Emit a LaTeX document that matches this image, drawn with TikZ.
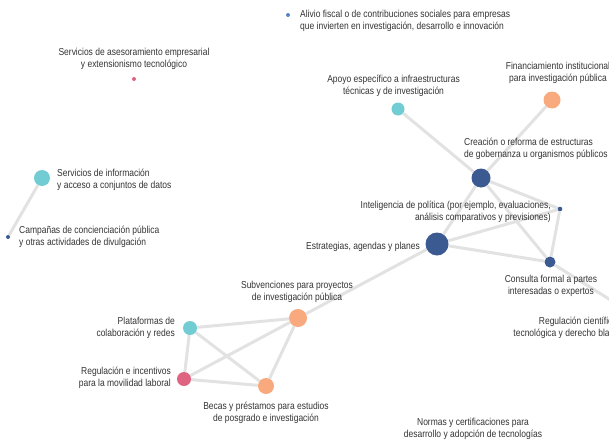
\documentclass[tikz,border=0pt]{standalone}
\usepackage{fontspec}
\setmainfont{Liberation Sans}[FakeStretch=0.84]
\usetikzlibrary{backgrounds}
\definecolor{navy}{HTML}{3C5A92}
\definecolor{skyblue}{HTML}{5B82C9}
\definecolor{cyanish}{HTML}{72CCD4}
\definecolor{peach}{HTML}{F8A97E}
\definecolor{rose}{HTML}{DE6482}
\definecolor{edgegray}{HTML}{E2E2E2}
\definecolor{txt}{HTML}{333333}
\begin{document}
\begin{tikzpicture}[x=1pt,y=-1pt,
  dot/.style={circle,inner sep=0pt,minimum size=#1},
  lbl/.style={font=\fontsize{10.1}{11.8}\selectfont,text=txt,inner sep=0pt},
  link/.style={draw=edgegray,line width=3pt}]
\useasboundingbox (0,0) rectangle (609,447);
\clip (0,0) rectangle (609,447);

% policy instruments
\node[dot=4pt,fill=skyblue] (alivio) at (288,15) {};
\node[dot=4pt,fill=rose] (asesor) at (134,79) {};
\node[dot=13pt,fill=cyanish] (apoyo) at (398,109) {};
\node[dot=17pt,fill=peach] (finan) at (552,100) {};
\node[dot=19pt,fill=navy] (creacion) at (481,178) {};
\node[dot=4.6pt,fill=navy] (intel) at (560,209) {};
\node[dot=23pt,fill=navy] (estrat) at (437,244) {};
\node[dot=11pt,fill=navy] (consulta) at (550,262) {};
\coordinate (regcien) at (636,316);
\node[dot=16pt,fill=cyanish] (info) at (42,178) {};
\node[dot=4pt,fill=navy] (campa) at (8,237) {};
\node[dot=18pt,fill=peach] (subv) at (298,318) {};
\node[dot=14pt,fill=cyanish] (plat) at (190,328) {};
\node[dot=14pt,fill=rose] (reglab) at (184,379) {};
\node[dot=16pt,fill=peach] (becas) at (266,386) {};

% co-occurrence links
\begin{pgfonlayer}{background}
\draw[link] (info) -- (campa);
\draw[link] (apoyo) -- (creacion);
\draw[link] (finan) -- (creacion);
\draw[link] (creacion) -- (estrat);
\draw[link] (creacion) -- (intel);
\draw[link] (creacion) -- (consulta);
\draw[link] (estrat) -- (intel);
\draw[link] (estrat) -- (consulta);
\draw[link] (intel) -- (consulta);
\draw[link] (consulta) -- (regcien);
\draw[link] (estrat) -- (subv);
\draw[link] (subv) -- (plat);
\draw[link] (subv) -- (reglab);
\draw[link] (subv) -- (becas);
\draw[link] (plat) -- (reglab);
\draw[link] (plat) -- (becas);
\draw[link] (reglab) -- (becas);
\end{pgfonlayer}

% labels
\node[lbl,anchor=west,align=left] (alivioL) at (300,20.5)
  {Alivio fiscal o de contribuciones sociales para empresas\\que invierten en investigación, desarrollo e innovación};
\node[lbl,align=center] (asesorL) at (134,58.5)
  {Servicios de asesoramiento empresarial\\y extensionismo tecnológico};
\node[lbl,align=center] (apoyoL) at (393.5,85.5)
  {Apoyo específico a infraestructuras\\técnicas y de investigación};
\node[lbl,align=center] (finanL) at (558,72.5)
  {Financiamiento institucional\\para investigación pública};
\node[lbl,anchor=west,align=left] (creacionL) at (464,148.5)
  {Creación o reforma de estructuras\\de gobernanza u organismos públicos};
\node[lbl,anchor=east,align=right] (intelL) at (551,212)
  {Inteligencia de política (por ejemplo, evaluaciones,\\análisis comparativos y previsiones)};
\node[lbl,anchor=east] (estratL) at (420,247) {Estrategias, agendas y planes};
\node[lbl,align=center] (consultaL) at (551,286)
  {Consulta formal a partes\\interesadas o expertos};
\node[lbl,anchor=east,align=right] (regcienL) at (624,327.5)
  {Regulación científica y\\tecnológica y derecho blando};
\node[lbl,anchor=west,align=left] (infoL) at (57,180)
  {Servicios de información\\y acceso a conjuntos de datos};
\node[lbl,anchor=west,align=left] (campaL) at (19,236.5)
  {Campañas de concienciación pública\\y otras actividades de divulgación};
\node[lbl,align=center] (subvL) at (297,291.5)
  {Subvenciones para proyectos\\de investigación pública};
\node[lbl,anchor=east,align=right] (platL) at (175,328)
  {Plataformas de\\colaboración y redes};
\node[lbl,anchor=east,align=right] (reglabL) at (171,378)
  {Regulación e incentivos\\para la movilidad laboral};
\node[lbl,align=center] (becasL) at (266,413)
  {Becas y préstamos para estudios\\de posgrado e investigación};
\node[lbl,align=center] (normasL) at (473,428.5)
  {Normas y certificaciones para\\desarrollo y adopción de tecnologías};
\end{tikzpicture}
\end{document}
